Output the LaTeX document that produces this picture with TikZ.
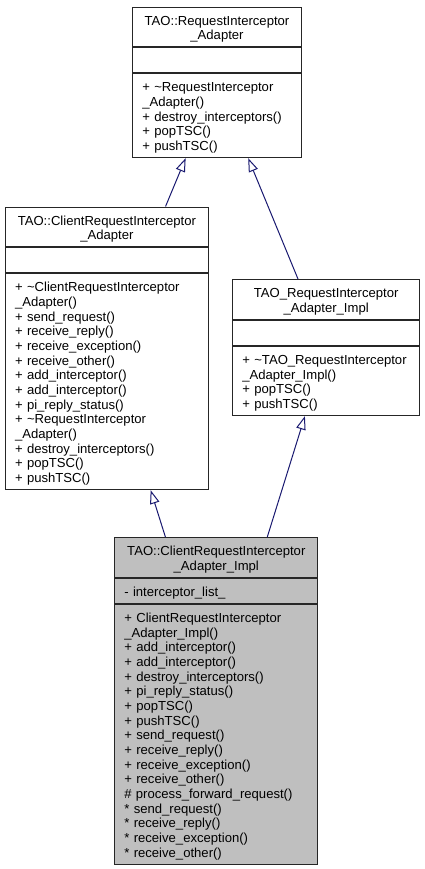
\documentclass[tikz,border=0pt]{standalone}
\usepackage{fontspec}
\setmainfont{Liberation Sans}
\usetikzlibrary{positioning,fit,arrows.meta}
\definecolor{edgeblue}{RGB}{25,25,112}
\definecolor{focusgray}{RGB}{191,191,191}
\newcommand{\classsize}{\fontsize{13.1pt}{14.67pt}\selectfont\lineskiplimit=-20pt\relax}
\newcommand{\firstline}{\rule[-2.75pt]{0pt}{16.5pt}}
\begin{document}
\begin{tikzpicture}
[x=1pt,y=1pt,
  classpart/.style={font=\classsize,draw=black!85,line width=1pt,
    inner xsep=9.5pt,inner ysep=4.25pt,text width=#1,align=left},
  classname/.style={classpart=#1,align=center},
  classfocus/.style={fill=focusgray},
  inherit/.style={draw=edgeblue,line width=1pt,
    -{Triangle[open,length=13.5pt,width=9.5pt]}}]
\useasboundingbox (0,0) rectangle (424,-869);
%% base class
\node[classname=149.4pt,anchor=north west] (Aname) at (132.3,-6.7)
  {\firstline TAO::RequestInterceptor\\\_Adapter};
\node[classpart=149.4pt,below=0pt of Aname] (Aattr) {\firstline};
\node[classpart=149.4pt,below=0pt of Aattr] (Aops)
  {\firstline + \textasciitilde RequestInterceptor\\\_Adapter()\\
   + destroy\_interceptors()\\+ popTSC()\\+ pushTSC()};
\node[fit=(Aname)(Aops),inner sep=0pt] (A) {};
%% client adapter
\node[classname=183.7pt,anchor=north west] (Bname) at (5,-206.7)
  {\firstline TAO::ClientRequestInterceptor\\\_Adapter};
\node[classpart=183.7pt,below=0pt of Bname] (Battr) {\firstline};
\node[classpart=183.7pt,below=0pt of Battr] (Bops)
  {\firstline + \textasciitilde ClientRequestInterceptor\\\_Adapter()\\
   + send\_request()\\+ receive\_reply()\\+ receive\_exception()\\
   + receive\_other()\\+ add\_interceptor()\\+ add\_interceptor()\\
   + pi\_reply\_status()\\+ \textasciitilde RequestInterceptor\\\_Adapter()\\
   + destroy\_interceptors()\\+ popTSC()\\+ pushTSC()};
\node[fit=(Bname)(Bops),inner sep=0pt] (B) {};
%% adapter impl
\node[classname=167.7pt,anchor=north west] (Cname) at (232.3,-279.3)
  {\firstline TAO\_RequestInterceptor\\\_Adapter\_Impl};
\node[classpart=167.7pt,below=0pt of Cname] (Cattr) {\firstline};
\node[classpart=167.7pt,below=0pt of Cattr] (Cops)
  {\firstline + \textasciitilde TAO\_RequestInterceptor\\\_Adapter\_Impl()\\
   + popTSC()\\+ pushTSC()};
\node[fit=(Cname)(Cops),inner sep=0pt] (C) {};
%% client adapter impl (this class)
\node[classname=184pt,classfocus,anchor=north west] (Dname) at (114.3,-537.3)
  {\firstline TAO::ClientRequestInterceptor\\\_Adapter\_Impl};
\node[classpart=184pt,classfocus,below=0pt of Dname] (Dattr)
  {\firstline - interceptor\_list\_};
\node[classpart=184pt,classfocus,below=0pt of Dattr] (Dops)
  {\firstline + ClientRequestInterceptor\\\_Adapter\_Impl()\\
   + add\_interceptor()\\+ add\_interceptor()\\+ destroy\_interceptors()\\
   + pi\_reply\_status()\\+ popTSC()\\+ pushTSC()\\+ send\_request()\\
   + receive\_reply()\\+ receive\_exception()\\+ receive\_other()\\
   \# process\_forward\_request()\\{}* send\_request()\\{}* receive\_reply()\\
   {}* receive\_exception()\\{}* receive\_other()};
\node[fit=(Dname)(Dops),inner sep=0pt] (D) {};
%% inheritance
\path
\foreach \child/\parent in {B/A, C/A, D/B, D/C} {
  (\child) edge[inherit] (\parent)
};
\end{tikzpicture}
\end{document}
